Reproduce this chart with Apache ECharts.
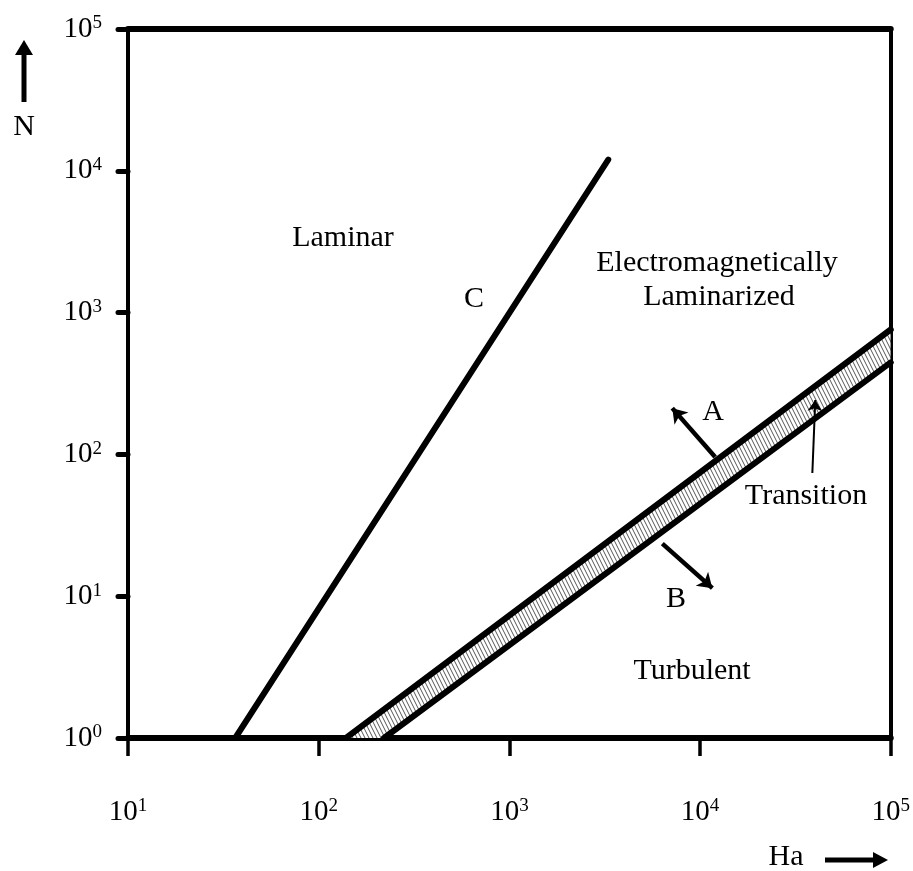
<!DOCTYPE html>
<html>
<head>
<meta charset="utf-8">
<script src="https://cdn.jsdelivr.net/npm/echarts@6/dist/echarts.min.js"></script>
<style>
  html, body { margin: 0; padding: 0; background: #fff; }
  #chart { width: 913px; height: 871px; }
</style>
</head>
<body>
<div id="chart"></div>
<script>
// Stability diagram: Hartmann number (Ha) vs interaction parameter (N), log-log
const haRange = [10, 100000];
const nRange = [1, 100000];

// Boundary C (laminar / electromagnetically laminarized)
const lineC = [[36.5, 1], [3300, 12000]];
// Boundary A (upper edge of transition band)
const lineA = [[139, 1], [100000, 760]];
// Boundary B (lower edge of transition band)
const lineB = [[220, 1], [100000, 445]];

// Direction arrows: [start, tip]
const arrowA = [[12000, 96], [7150, 212]];
const arrowB = [[6340, 23.5], [11600, 11.4]];
const arrowTransition = [[38800, 74], [40200, 242]];

const FONT = '"Liberation Serif", "DejaVu Serif", serif';

// Hatch pattern for the transition band
const tile = document.createElement('canvas');
tile.width = 4; tile.height = 8;
(function () {
  const c = tile.getContext('2d');
  c.fillStyle = '#fff';
  c.fillRect(0, 0, 4, 8);
  c.strokeStyle = '#555';
  c.lineWidth = 1;
  for (let x = -4; x <= 4; x += 4) {
    c.beginPath();
    c.moveTo(x, 0);
    c.lineTo(x + 4, 8);
    c.stroke();
  }
})();

function powLabel(v) {
  const e = Math.round(Math.log10(v));
  return '{b|10}{s|' + e + '}';
}
const labelRich = {
  b: { fontFamily: FONT, fontSize: 29, color: '#000', lineHeight: 30 },
  s: { fontFamily: FONT, fontSize: 19, color: '#000', verticalAlign: 'top', lineHeight: 30 }
};

const chart = echarts.init(document.getElementById('chart'), null, { renderer: 'canvas' });

const blackLine = (w) => ({ color: '#000', width: w, cap: 'round' });
const boundaryStyle = { color: '#000', width: 6, cap: 'round' };

chart.setOption({
  animation: false,
  backgroundColor: '#fff',
  grid: { left: 128, top: 29, width: 763, height: 709, containLabel: false },
  xAxis: [
    {
      type: 'log', logBase: 10, min: haRange[0], max: haRange[1],
      position: 'bottom',
      axisLine: { show: true, onZero: false, lineStyle: blackLine(6) },
      axisTick: { show: true, inside: false, length: 18, lineStyle: { color: '#000', width: 3.5 } },
      minorTick: { show: false },
      splitLine: { show: false },
      axisLabel: { margin: 59, formatter: powLabel, rich: labelRich, showMinLabel: true, showMaxLabel: true }
    },
    {
      type: 'log', logBase: 10, min: haRange[0], max: haRange[1],
      position: 'top',
      axisLine: { show: true, onZero: false, lineStyle: blackLine(6) },
      axisTick: { show: false }, axisLabel: { show: false }, splitLine: { show: false }
    }
  ],
  yAxis: [
    {
      type: 'log', logBase: 10, min: nRange[0], max: nRange[1],
      position: 'left',
      axisLine: { show: true, onZero: false, lineStyle: blackLine(4) },
      axisTick: { show: true, inside: false, length: 10, lineStyle: { color: '#000', width: 5, cap: 'round' } },
      splitLine: { show: false },
      axisLabel: { margin: 26, formatter: powLabel, rich: labelRich, showMinLabel: true, showMaxLabel: true }
    },
    {
      type: 'log', logBase: 10, min: nRange[0], max: nRange[1],
      position: 'right',
      axisLine: { show: true, onZero: false, lineStyle: blackLine(4) },
      axisTick: { show: false }, axisLabel: { show: false }, splitLine: { show: false }
    }
  ],
  series: [
    {
      // hatched transition band between A and B
      type: 'custom',
      xAxisIndex: 0, yAxisIndex: 0,
      silent: true,
      data: [lineA[0]],
      renderItem: function (params, api) {
        const pts = [
          api.coord(lineA[0]), api.coord(lineA[1]),
          api.coord(lineB[1]), api.coord(lineB[0])
        ];
        const cs = params.coordSys;
        return {
          type: 'group',
          clipPath: { type: 'rect', shape: { x: cs.x, y: cs.y, width: cs.width, height: cs.height } },
          children: [{
            type: 'polygon',
            shape: { points: pts },
            style: { fill: { image: tile, repeat: 'repeat' }, stroke: null }
          }]
        };
      },
      z: 1
    },
    {
      name: 'A', type: 'line', data: lineA, showSymbol: false, symbol: 'none',
      lineStyle: boundaryStyle, silent: true, z: 3
    },
    {
      name: 'B', type: 'line', data: lineB, showSymbol: false, symbol: 'none',
      lineStyle: boundaryStyle, silent: true, z: 3
    },
    {
      name: 'C', type: 'line', data: lineC, showSymbol: false, symbol: 'none',
      lineStyle: boundaryStyle, silent: true, z: 3
    },
    {
      type: 'lines', coordinateSystem: 'cartesian2d', silent: true,
      symbol: ['none', 'arrow'], symbolSize: 14,
      lineStyle: { color: '#000', width: 4.5, opacity: 1, curveness: 0 },
      data: [
        { coords: arrowA },
        { coords: arrowB }
      ],
      z: 4
    },
    {
      type: 'lines', coordinateSystem: 'cartesian2d', silent: true,
      symbol: ['none', 'arrow'], symbolSize: 11,
      lineStyle: { color: '#000', width: 2, opacity: 1, curveness: 0 },
      data: [{ coords: arrowTransition }],
      z: 4
    }
  ],
  graphic: [
    { type: 'text', x: 343, y: 238, style: { text: 'Laminar', font: '30px ' + FONT, fill: '#000', align: 'center', verticalAlign: 'middle' } },
    { type: 'text', x: 474, y: 299, style: { text: 'C', font: '30px ' + FONT, fill: '#000', align: 'center', verticalAlign: 'middle' } },
    { type: 'text', x: 717, y: 263, style: { text: 'Electromagnetically', font: '30px ' + FONT, fill: '#000', align: 'center', verticalAlign: 'middle' } },
    { type: 'text', x: 719, y: 297, style: { text: 'Laminarized', font: '30px ' + FONT, fill: '#000', align: 'center', verticalAlign: 'middle' } },
    { type: 'text', x: 713, y: 412, style: { text: 'A', font: '30px ' + FONT, fill: '#000', align: 'center', verticalAlign: 'middle' } },
    { type: 'text', x: 676, y: 599, style: { text: 'B', font: '30px ' + FONT, fill: '#000', align: 'center', verticalAlign: 'middle' } },
    { type: 'text', x: 806, y: 496, style: { text: 'Transition', font: '30px ' + FONT, fill: '#000', align: 'center', verticalAlign: 'middle' } },
    { type: 'text', x: 692, y: 671, style: { text: 'Turbulent', font: '30px ' + FONT, fill: '#000', align: 'center', verticalAlign: 'middle' } },
    // axis names with arrows
    { type: 'text', x: 24, y: 127, style: { text: 'N', font: '30px ' + FONT, fill: '#000', align: 'center', verticalAlign: 'middle' } },
    { type: 'line', shape: { x1: 24, y1: 102, x2: 24, y2: 52 }, style: { stroke: '#000', lineWidth: 5 } },
    { type: 'polygon', shape: { points: [[15, 55], [33, 55], [24, 40]] }, style: { fill: '#000' } },
    { type: 'text', x: 786, y: 857, style: { text: 'Ha', font: '30px ' + FONT, fill: '#000', align: 'center', verticalAlign: 'middle' } },
    { type: 'line', shape: { x1: 825, y1: 860, x2: 875, y2: 860 }, style: { stroke: '#000', lineWidth: 5 } },
    { type: 'polygon', shape: { points: [[873, 852], [873, 868], [888, 860]] }, style: { fill: '#000' } }
  ]
});
</script>
</body>
</html>
